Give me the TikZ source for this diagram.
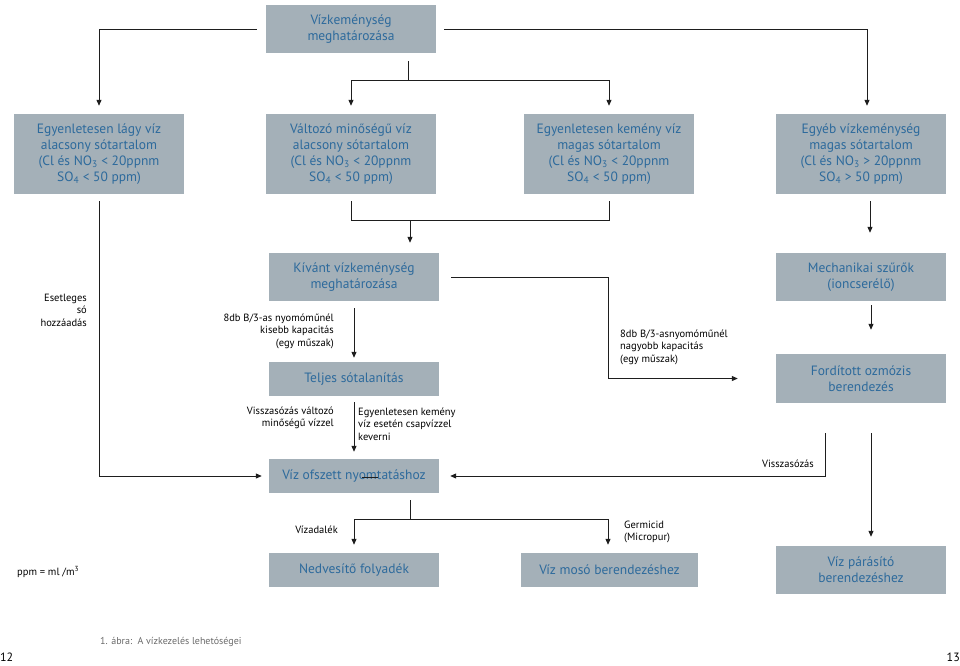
\documentclass[tikz,border=0pt]{standalone}
\usepackage{fontspec}
\setmainfont{PT Sans}
\usetikzlibrary{arrows.meta}
\definecolor{boxfill}{HTML}{A4B0B8}
\definecolor{boxtext}{HTML}{2D6A9C}
\definecolor{linec}{HTML}{1E1E1E}
\definecolor{capgray}{HTML}{6A6A6A}
\tikzset{
  box/.style={fill=boxfill, text=boxtext, minimum width=170pt, inner sep=0pt, align=center,
    font=\fontsize{13.5}{16}\selectfont},
  lbl/.style={inner sep=0pt, text=black, font=\fontsize{10.5}{12.5}\selectfont},
  conn/.style={draw=linec, line width=1pt},
  arr/.style={conn, -{Triangle[length=6pt,width=5pt]}}
}
\begin{document}
\begin{tikzpicture}[x=1pt,y=-1pt]
\useasboundingbox (0,0) rectangle (960,665);
% boxes
\node[box, minimum height=48pt] (top) at (351,29) {Vízkeménység\\meghatározása};
\node[box, minimum height=80pt] (b1) at (99,154) {Egyenletesen lágy víz\\alacsony sótartalom\\(Cl és NO\textsubscript{3} < 20ppnm\\SO\textsubscript{4} < 50 ppm)};
\node[box, minimum height=80pt] (b2) at (351,154) {Változó minőségű víz\\alacsony sótartalom\\(Cl és NO\textsubscript{3} < 20ppnm\\SO\textsubscript{4} < 50 ppm)};
\node[box, minimum height=80pt] (b3) at (609,154) {Egyenletesen kemény víz\\magas sótartalom\\(Cl és NO\textsubscript{3} < 20ppnm\\SO\textsubscript{4} < 50 ppm)};
\node[box, minimum height=80pt] (b4) at (861,154) {Egyéb vízkeménység\\magas sótartalom\\(Cl és NO\textsubscript{3} > 20ppnm\\SO\textsubscript{4} > 50 ppm)};
\node[box, minimum height=48pt] (kivant) at (354,277) {Kívánt vízkeménység\\meghatározása};
\node[box, minimum height=34pt] (teljes) at (354,379) {Teljes sótalanítás};
\node[box, minimum height=48pt] (mech) at (861,277) {Mechanikai szűrők\\(ioncserélő)};
\node[box, minimum height=49pt] (ford) at (861,378.5) {Fordított ozmózis\\berendezés};
\node[box, minimum height=34pt] (ofszett) at (354,476) {Víz ofszett nyomtatáshoz};
\node[box, minimum height=34pt] (nedv) at (354,570) {Nedvesítő folyadék};
\node[box, minimum height=34pt, minimum width=177pt] (moso) at (609.5,570) {Víz mosó berendezéshez};
\node[box, minimum height=48pt] (paras) at (861,570) {Víz párásító\\berendezéshez};
% junction coordinates
\coordinate (j1) at (408,80);
\coordinate (j2) at (410,220);
\coordinate (k1) at (608,277);
\coordinate (r1) at (825,433);
\coordinate (j3) at (410,519);
% connectors
\draw[arr, shorten <=9pt, shorten >=8pt] (top.west) -| (b1.north);
\draw[arr, shorten <=8pt, shorten >=8pt] (top.east) -| ([xshift=6pt]b4.north);
\draw[conn, shorten <=8pt] (top.south -| j1) -- (j1);
\draw[arr, shorten >=8pt] (j1) -| (b2.north);
\draw[arr, shorten >=8pt] (j1) -| (b3.north);
\draw[arr, shorten <=7pt, shorten >=7pt] (b1.south) |- (ofszett.west);
\draw[conn, shorten <=7pt] (b2.south) |- (j2);
\draw[conn, shorten <=7pt] (b3.south) |- (j2);
\draw[arr, shorten >=10pt] (j2) -- (kivant.north -| j2);
\draw[arr, shorten <=7pt, shorten >=20pt] ([xshift=9pt]b4.south) -- ([xshift=9pt]mech.north);
\draw[arr, shorten <=12pt, shorten >=38pt] (kivant.east) -- (k1) |- (ford.west);
\draw[arr, shorten <=7pt, shorten >=4pt] (kivant.south) -- (teljes.north);
\draw[arr, shorten <=6pt, shorten >=7pt] (teljes.south) -- (ofszett.north);
\draw[arr, shorten <=4pt, shorten >=24pt] ([xshift=10pt]mech.south) -- ([xshift=10pt]ford.north);
\draw[arr, shorten >=11pt] (r1) |- (ofszett.east);
\draw[arr, shorten <=30pt, shorten >=9pt] ([xshift=10pt]ford.south) -- ([xshift=10pt]paras.north);
\draw[conn, shorten <=7pt] (ofszett.south -| j3) -- (j3);
\draw[arr, shorten >=8pt] (j3) -| (nedv.north);
\draw[arr, shorten >=8pt] (j3) -| ([xshift=-1.5pt]moso.north);
\draw[conn] (362,477) -- (378,477);
% labels
\node[lbl, anchor=east, align=right] (l1) at (87,310) {Esetleges\\só\\hozzáadás};
\node[lbl, anchor=east, align=right] (l2) at (334,331) {8db B/3-as nyomóműnél\\kisebb kapacitás\\(egy műszak)};
\node[lbl, anchor=east, align=right] (l3) at (334,418) {Visszasózás változó\\minőségű vízzel};
\node[lbl, anchor=west, align=left] (l4) at (358,424) {Egyenletesen kemény\\víz esetén csapvízzel\\keverni};
\node[lbl, anchor=west, align=left] (l5) at (620,347) {8db B/3-asnyomóműnél\\nagyobb kapacitás\\(egy műszak)};
\node[lbl, anchor=east] (l6) at (814,464) {Visszasózás};
\node[lbl, anchor=east] (l7) at (338,530) {Vízadalék};
\node[lbl, anchor=west, align=left] (l8) at (624,532) {Germicid\\(Micropur)};
\node[lbl, anchor=west] (l9) at (17,572) {ppm = ml /m\textsuperscript{3}};
\node[lbl, anchor=west, text=capgray, font=\fontsize{10}{12}\selectfont] (cap) at (100,642) {1. ábra:\ \ A vízkezelés lehetóségei};
\node[lbl, anchor=west, font=\fontsize{12}{14}\selectfont] (p12) at (0,657) {12};
\node[lbl, anchor=east, font=\fontsize{12}{14}\selectfont] (p13) at (960,657) {13};
\end{tikzpicture}
\end{document}
